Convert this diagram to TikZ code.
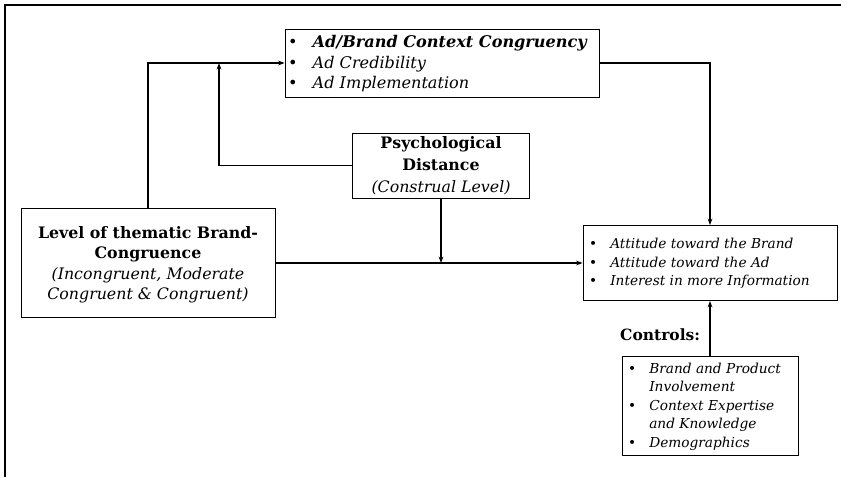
\documentclass[tikz,border=0pt]{standalone}
\usepackage{fontspec}
\setmainfont{DejaVu Serif}
\usetikzlibrary{arrows.meta}

% bullet list laid out as a two-column table
\newcommand{\bl}{\textbullet}
\newenvironment{blist}[1]{\begin{tabular}{@{}l@{\hspace{#1}}l@{}}}{\end{tabular}}

\begin{document}
\begin{tikzpicture}[x=1pt,y=-1pt,
  box/.style={draw, line width=0.9pt, inner sep=0pt},
  link/.style={line width=1.6pt},
  arr/.style={link, -{Stealth[length=6.5pt,width=4.8pt]}},
  big/.style={font=\fontsize{15.8}{20.5}\selectfont},
  small/.style={font=\fontsize{13.7}{18.6}\selectfont}]
  \useasboundingbox (0,0) rectangle (850,477);

  % page frame
  \draw[line width=1.2pt] (5,477) -- (5,5) -- (841,5);

  % boxes
  \node[box, minimum width=314pt, minimum height=68pt] (top) at (442,63) {};
  \node[anchor=west, inner sep=0pt, font=\fontsize{16.1}{20.8}\selectfont] (toptext) at (288,64)
    {\begin{blist}{15pt}
      \bl & \textbf{\textit{Ad/Brand Context Congruency}}\\
      \bl & \textit{Ad Credibility}\\
      \bl & \textit{Ad Implementation}
    \end{blist}};

  \node[box, minimum width=177pt, minimum height=65pt, align=center,
        font=\fontsize{15.8}{22}\selectfont] (psych) at (441,165.5)
    {\textbf{Psychological}\\ \textbf{Distance}\\ \textit{(Construal Level)}};

  \node[box, minimum width=254pt, minimum height=109pt] (level) at (148,263) {};
  \node[big, align=center, inner sep=0pt] (leveltext) at (148,264.5)
    {\textbf{Level of thematic Brand-}\\ \textbf{Congruence}\\
     \textit{(Incongruent, Moderate}\\ \textit{Congruent \& Congruent)}};

  \node[box, minimum width=254pt, minimum height=75pt] (att) at (710,263) {};
  \node[small, anchor=west, inner sep=0pt] (atttext) at (589,263.5) {\begin{blist}{13pt}
      \bl & \textit{Attitude toward the Brand}\\
      \bl & \textit{Attitude toward the Ad}\\
      \bl & \textit{Interest in more Information}
    \end{blist}};

  \node[box, minimum width=176pt, minimum height=99pt] (ctrl) at (710,405.5) {};
  \node[small, anchor=west, inner sep=0pt] (ctrltext) at (628,406.5) {\begin{blist}{13pt}
      \bl & \textit{Brand and Product}\\
          & \textit{Involvement}\\
      \bl & \textit{Context Expertise}\\
          & \textit{and Knowledge}\\
      \bl & \textit{Demographics}
    \end{blist}};

  \node[anchor=west, inner sep=0pt, font=\fontsize{15.5}{18}\selectfont] (ctrllabel) at (620,335)
    {\textbf{Controls:}};

  % connectors
  \coordinate (j1) at (219,63);
  \coordinate (j2) at (psych.south |- level.east);
  \draw[arr] (level.north) |- (top.west);
  \draw[arr] (psych.west) -| (j1);
  \draw[arr] (top.east) -| (att.north);
  \draw[arr] (level.east) -- (att.west);
  \draw[arr] (psych.south) -- (j2);
  \draw[arr] (ctrl.north) -- (att.south);
\end{tikzpicture}
\end{document}
